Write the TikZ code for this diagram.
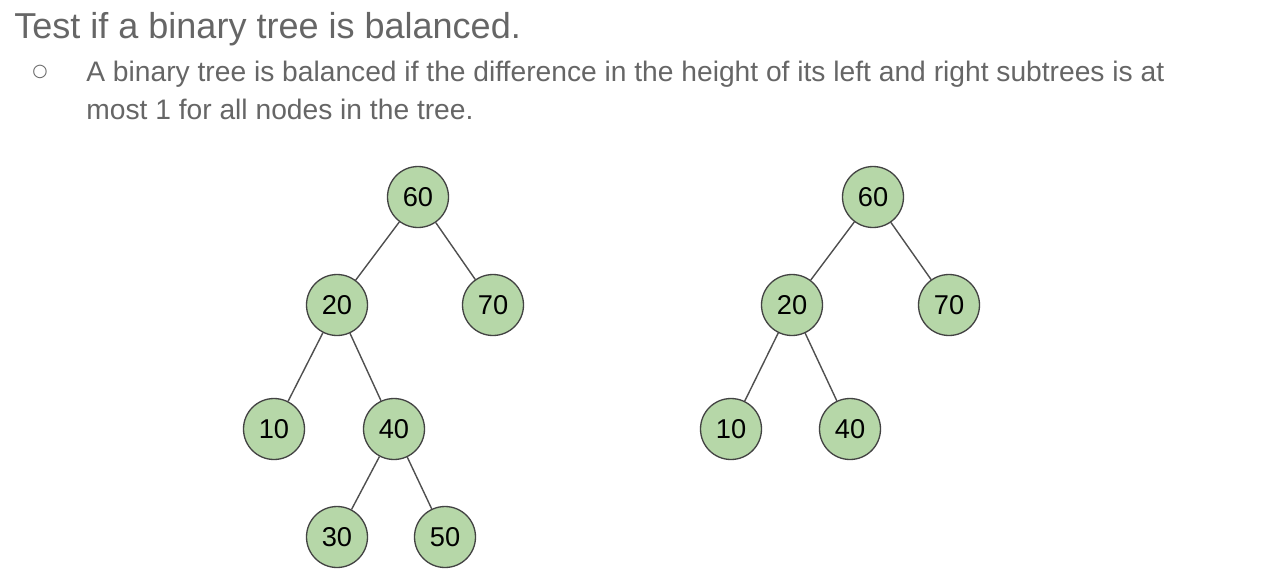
\documentclass[tikz,border=0pt]{standalone}
\usepackage{fontspec}
\setmainfont{Liberation Sans}
\newfontfamily\symfont{DejaVu Sans}
\usepackage{tikz}
\usetikzlibrary{positioning}
\definecolor{tgreen}{HTML}{B6D7A8}
\definecolor{tedge}{HTML}{434343}
\definecolor{tline}{HTML}{505050}
\definecolor{ttext}{HTML}{666666}
\tikzset{
  tnode/.style={circle, draw=tedge, fill=tgreen, line width=0.75pt,
                minimum size=1.22cm, inner sep=0pt, font=\fontsize{15.5}{17}\selectfont},
  tarc/.style={draw=tline, line width=0.8pt},
  title/.style={anchor=base west, text=ttext, inner sep=0pt, font=\fontsize{20.5}{24}\selectfont},
  body/.style={anchor=base west, text=ttext, inner sep=0pt, font=\fontsize{16.05}{19}\selectfont},
}
\begin{document}
\begin{tikzpicture}[x=0.02cm, y=-0.02cm]
  \useasboundingbox[fill=white] (0,0) rectangle (1275,582);

  % heading and bullet
  \node[title] (head) at (14,38) {Test if a binary tree is balanced.};
  \node[text=ttext, inner sep=0pt, font=\symfont\fontsize{10}{12}\selectfont] (bul) at (40,72) {○};
  \node[body] (line1) at (86,81) {A binary tree is balanced if the difference in the height of its left and right subtrees is at};
  \node[body] (line2) at (86,119) {most 1 for all nodes in the tree.};

  % left tree
  \node[tnode] (a60) at (418,197) {60};
  \node[tnode] (a20) at (337,305) {20};
  \node[tnode] (a70) at (493,305) {70};
  \node[tnode] (a10) at (274,429) {10};
  \node[tnode] (a40) at (394,429) {40};
  \node[tnode] (a30) at (337,537) {30};
  \node[tnode] (a50) at (445,537) {50};

  \draw[tarc] (a60) -- (a20);
  \draw[tarc] (a60) -- (a70);
  \draw[tarc] (a20) -- (a10);
  \draw[tarc] (a20) -- (a40);
  \draw[tarc] (a40) -- (a30);
  \draw[tarc] (a40) -- (a50);

  % right tree
  \node[tnode] (b60) at (873,197) {60};
  \node[tnode] (b20) at (792,305) {20};
  \node[tnode] (b70) at (949,305) {70};
  \node[tnode] (b10) at (731,429) {10};
  \node[tnode] (b40) at (850,429) {40};

  \draw[tarc] (b60) -- (b20);
  \draw[tarc] (b60) -- (b70);
  \draw[tarc] (b20) -- (b10);
  \draw[tarc] (b20) -- (b40);

\end{tikzpicture}
\end{document}
